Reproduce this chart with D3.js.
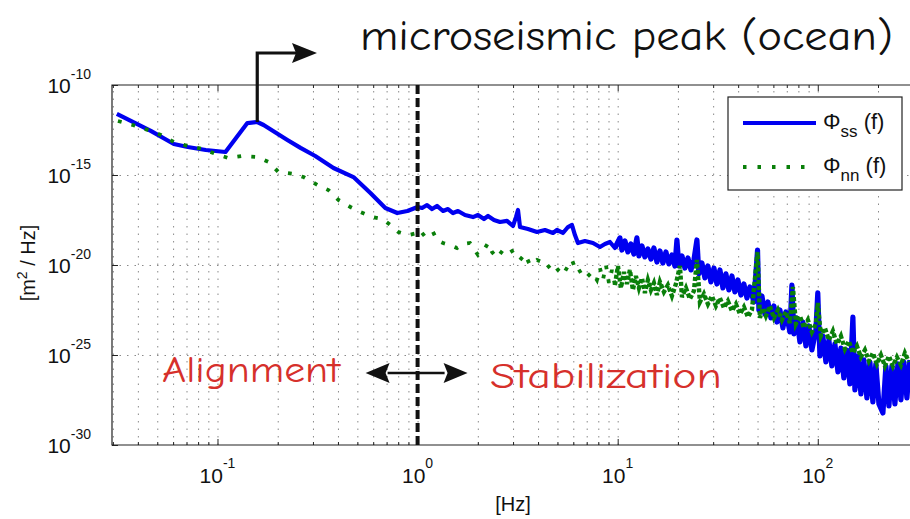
<!DOCTYPE html>
<html>
<head>
<meta charset="utf-8">
<script src="https://cdn.jsdelivr.net/npm/d3@7"></script>
<style>
  body { margin: 0; background: #fff; }
  text { font-family: "Liberation Sans", Arial, sans-serif; fill: #111; }
  .hand { font-family: "Comic Sans MS", "Comic Neue", "DejaVu Sans", sans-serif; }
  .grid line { stroke: #8a8a8a; stroke-width: 1; stroke-dasharray: 1.5, 6; }
  .grid path { display: none; }
  .axis path { display: none; }
  .axis line { stroke: #222; }
</style>
</head>
<body>
<div id="chart"></div>
<script>
const width = 910
const height = 519

// plot box
const pLeft = 112, pRight = 910, pTop = 85, pBottom = 445

// spectra: [frequency Hz, PSD m^2/Hz]
const phiSS = [
  [0.0314, 2.45e-12], [0.0464, 2.8e-13], [0.0605, 5.3e-14], [0.071, 3.6e-14], [0.0874, 2.45e-14],
  [0.1096, 1.9e-14], [0.141, 7.7e-13], [0.158, 8.8e-13], [0.170, 6.0e-13], [0.2235, 8.8e-14],
  [0.260, 3.2e-14], [0.308, 1.14e-14], [0.380, 2.45e-15], [0.478, 7.7e-16], [0.581, 1e-16],
  [0.690, 1.47e-17], [0.792, 7.7e-18], [0.889, 1e-17], [1.0, 1.67e-17],
  [1.053, 1.47e-17], [1.115, 2.15e-17], [1.181, 1.29e-17], [1.25, 1.9e-17], [1.34, 1e-17],
  [1.419, 1.29e-17], [1.503, 7.7e-18], [1.592, 1e-17], [1.726, 6.0e-18], [1.892, 4.6e-18],
  [2.004, 6.0e-18], [2.147, 3.6e-18], [2.249, 5.3e-18], [2.409, 3.2e-18], [2.581, 2.45e-18],
  [2.798, 2.8e-18], [2.997, 1.47e-18], [3.103, 4.6e-18], [3.175, 1.14e-17], [3.249, 1.29e-18],
  [3.562, 1e-18], [3.951, 6.8e-19], [4.331, 8.8e-19], [4.748, 6.0e-19], [4.972, 8.8e-19],
  [5.327, 6.0e-19], [5.643, 1.29e-18], [5.909, 1.67e-18], [6.116, 4.6e-19], [6.33, 1.67e-19],
  [6.861, 2.15e-19], [7.522, 1.67e-19], [8.153, 1e-19], [8.635, 1.47e-19], [9.147, 1.9e-19],
  [9.688, 8.8e-20],
  [10.26, 3.2e-19], [10.5, 6.8e-20], [10.87, 2.15e-19], [11.25, 5.3e-20], [11.64, 1.47e-19],
  [12.05, 4.1e-20], [12.47, 3.2e-19], [12.77, 3.2e-20], [13.22, 1.14e-19], [13.68, 2.8e-20],
  [14.16, 7.7e-20], [14.66, 2.15e-20], [15.17, 8.8e-20], [15.71, 1.47e-20], [16.26, 6.0e-20],
  [16.83, 1.29e-20], [17.42, 5.3e-20], [18.03, 1.14e-20], [18.67, 3.6e-20], [19.32, 8.8e-21],
  [19.77, 2.45e-19], [20.23, 8.8e-21], [20.95, 3.2e-20], [21.68, 6.8e-21], [22.44, 2.45e-20],
  [23.23, 5.3e-21], [24.04, 1.9e-20], [24.89, 2.45e-19], [25.46, 3.2e-21], [26.36, 1.29e-20],
  [27.29, 1.9e-21], [28.24, 8.8e-21], [29.24, 1.14e-21], [30.27, 6.8e-21], [31.33, 8.8e-22],
  [32.43, 5.3e-21], [33.57, 5.3e-22], [34.75, 3.2e-21], [35.96, 4.1e-22], [37.23, 2.45e-21],
  [38.54, 3.2e-22], [39.89, 1.47e-21], [41.29, 2.15e-22], [42.74, 8.8e-22], [44.25, 1.47e-22],
  [45.8, 6.0e-22], [47.95, 8.8e-23], [50.0, 6.8e-20], [50.79, 3.2e-23], [52.58, 1.9e-22],
  [54.42, 1.9e-23], [56.34, 8.8e-23], [58.32, 1.14e-23], [60.36, 5.3e-23], [62.48, 6.8e-24],
  [64.68, 3.2e-23], [66.94, 3.2e-24], [69.29, 2.45e-23], [72.56, 1.9e-24], [74.25, 7.7e-22],
  [75.98, 1.47e-24], [78.65, 1.14e-23], [81.41, 5.3e-25], [84.27, 6.8e-24], [87.23, 3.2e-25],
  [90.28, 4.1e-24], [93.46, 1.9e-25], [97.86, 2.45e-24], [100, 2.8e-22], [102.5, 8.8e-26],
  [106.0, 1.14e-24], [109.8, 4.1e-26], [113.6, 6.8e-25], [117.6, 2.45e-26], [121.8, 4.1e-25],
  [126.1, 1.14e-26], [130.5, 2.45e-25], [135.0, 5.3e-27], [139.8, 1.9e-25], [144.7, 2.45e-27],
  [149.8, 1.29e-23], [153.3, 1.14e-27], [158.7, 8.8e-26], [164.3, 6.8e-28], [170.0, 5.3e-26],
  [176.0, 4.1e-28], [182.2, 4.1e-26], [188.5, 2.45e-28], [195.1, 3.2e-26], [202.1, 1.9e-28],
  [211.6, 6.0e-29], [219.0, 2.45e-26], [226.7, 1.47e-28], [234.6, 2.45e-26], [242.9, 1.9e-28],
  [251.4, 3.2e-26], [260.3, 3.2e-28], [269.4, 4.1e-26], [278.9, 4.1e-28], [288.6, 5.3e-26]
]

const phiNN = [
  [0.0318, 1e-12], [0.0377, 6.0e-13], [0.0448, 3.2e-13], [0.0521, 1.67e-13], [0.0605, 6.8e-14],
  [0.071, 4.1e-14], [0.0844, 2.8e-14], [0.098, 1.47e-14], [0.113, 8.8e-15], [0.133, 1.14e-14],
  [0.158, 1e-14], [0.180, 5.3e-15], [0.2016, 1.47e-15], [0.240, 1.14e-15], [0.269, 7.7e-16],
  [0.316, 2.8e-16], [0.358, 1.47e-16], [0.402, 4.1e-17], [0.4615, 1.67e-17], [0.518, 8.8e-18],
  [0.594, 4.6e-18], [0.667, 3.6e-18], [0.731, 1.67e-18], [0.801, 6.8e-19], [0.899, 4.6e-19],
  [1.0, 6.0e-19],
  [1.029, 3.6e-19], [1.103, 6.8e-19], [1.181, 8.8e-19], [1.25, 2.45e-19], [1.34, 1.67e-19],
  [1.452, 1.29e-19], [1.574, 8.8e-20], [1.687, 1.47e-19], [1.828, 1.67e-19], [2.004, 3.6e-20],
  [2.147, 6.8e-20], [2.249, 1.67e-19], [2.355, 5.3e-20], [2.494, 2.45e-20], [2.672, 6.8e-20],
  [2.896, 8.8e-20], [3.067, 3.2e-20], [3.249, 1.9e-20], [3.441, 4.1e-20], [3.645, 1e-20],
  [3.951, 1.9e-20], [4.184, 1.47e-20], [4.432, 6.8e-21], [4.748, 1.29e-20], [5.03, 5.3e-21],
  [5.327, 2.8e-21], [5.643, 8.8e-21], [5.909, 1.9e-20], [6.259, 3.6e-21], [6.629, 5.3e-21],
  [7.021, 2.15e-21], [7.436, 4.1e-21], [7.876, 1.47e-21],
  [8.153, 6.8e-21], [8.438, 1.47e-21], [8.735, 1e-20], [9.042, 1e-21], [9.36, 5.3e-21],
  [9.688, 7.7e-22], [10.03, 8.8e-21], [10.38, 5.3e-22], [10.75, 4.1e-21], [11.12, 8.8e-22],
  [11.51, 5.3e-21], [11.91, 4.1e-22], [12.33, 2.45e-21], [12.77, 5.3e-22], [13.22, 1.9e-21],
  [13.68, 2.8e-22], [14.16, 1.47e-21], [14.66, 4.1e-22], [15.17, 1e-21], [15.71, 2.15e-22],
  [16.26, 1.14e-21], [17.02, 3.2e-22], [17.82, 7.7e-22], [18.67, 1.9e-22], [19.54, 8.8e-22],
  [20.47, 8.8e-21], [20.95, 1.67e-22], [21.93, 5.3e-22], [22.96, 1.29e-22], [24.04, 3.6e-22],
  [24.89, 1.9e-20], [25.76, 8.8e-23], [26.98, 2.45e-22], [28.24, 6.8e-23], [29.57, 1.9e-22],
  [30.97, 5.3e-23], [32.43, 1.47e-22], [33.96, 4.1e-23], [35.55, 1e-22], [37.23, 2.8e-23],
  [38.99, 6.8e-23], [40.82, 1.9e-23], [42.74, 4.6e-23], [44.76, 1.29e-23], [46.87, 3.2e-23],
  [50.0, 5.3e-20], [51.38, 1.14e-23], [53.18, 4.1e-23], [55.05, 1.47e-23], [57.65, 5.3e-23],
  [60.36, 1.14e-23], [63.21, 3.2e-23], [66.19, 8.8e-24], [69.29, 2.45e-23], [72.56, 6.0e-24],
  [75.11, 6.0e-22], [77.75, 5.3e-24], [81.41, 1.47e-23], [85.24, 3.2e-24], [89.25, 8.8e-24],
  [93.46, 1.9e-24], [97.86, 5.3e-24], [100, 7.7e-23], [103.7, 1.14e-24], [108.5, 3.2e-24],
  [113.6, 6.8e-25], [119.0, 2.15e-24], [124.6, 4.1e-25], [130.5, 1.14e-24], [136.6, 2.15e-25],
  [143.0, 6.0e-25], [149.8, 1.29e-25], [156.9, 3.2e-25], [164.3, 7.7e-26], [172.0, 1.9e-25],
  [180.1, 4.6e-26], [188.5, 1.29e-25], [197.4, 3.2e-26], [206.8, 1e-25], [216.5, 2.45e-26],
  [226.7, 8.8e-26], [237.4, 2.45e-26], [248.6, 7.7e-26], [260.3, 2.8e-26], [272.5, 1.29e-25],
  [285.3, 4.1e-26]
]

const xMajor = [0.1, 1, 10, 100]
const yMajor = [1e-30, 1e-25, 1e-20, 1e-15, 1e-10]
const splitFreq = 1
const legendRows = [
  {sub: "ss", color: "#0000f0", dash: null},
  {sub: "nn", color: "#0a7f0a", dash: "3.5,11"}
]

const x = d3.scaleLog().domain([0.0297, 289]).range([pLeft, pRight])
const y = d3.scaleLog().domain([1e-30, 1e-10]).range([pBottom, pTop])

const xMinor = [0.01, 0.1, 1, 10, 100]
  .flatMap(d => d3.range(2, 10).map(k => +(k * d).toPrecision(2)))
  .filter(v => v > x.domain()[0] && v < x.domain()[1])

let svg = d3.select("#chart")
            .append("svg")
            .attr("width", width)
            .attr("height", height)

svg.append("rect").attr("width", width).attr("height", height).attr("fill", "#fff")

svg.append("clipPath").attr("id", "plot")
   .append("rect").attr("x", pLeft).attr("y", pTop)
   .attr("width", pRight - pLeft).attr("height", pBottom - pTop)

// dotted grid
svg.append("g").attr("class", "grid")
   .attr("transform", `translate(0,${pBottom})`)
   .call(d3.axisBottom(x).tickValues(xMajor.concat(xMinor)).tickSize(-(pBottom - pTop)).tickFormat(""))
svg.append("g").attr("class", "grid")
   .attr("transform", `translate(${pLeft},0)`)
   .call(d3.axisLeft(y).tickValues(yMajor.slice(1, -1)).tickSize(-(pRight - pLeft)).tickFormat(""))

// ticks pointing inward
svg.append("g").attr("class", "axis").attr("transform", `translate(0,${pBottom})`)
   .call(d3.axisBottom(x).tickValues(xMinor).tickSize(-3).tickFormat(""))
svg.append("g").attr("class", "axis").attr("transform", `translate(0,${pBottom})`)
   .call(d3.axisBottom(x).tickValues(xMajor).tickSize(-6).tickFormat(""))
svg.append("g").attr("class", "axis").attr("transform", `translate(0,${pTop})`)
   .call(d3.axisTop(x).tickValues(xMinor).tickSize(-3).tickFormat(""))
svg.append("g").attr("class", "axis").attr("transform", `translate(0,${pTop})`)
   .call(d3.axisTop(x).tickValues(xMajor).tickSize(-6).tickFormat(""))
svg.append("g").attr("class", "axis").attr("transform", `translate(${pLeft},0)`)
   .call(d3.axisLeft(y).tickValues(yMajor).tickSize(-6).tickFormat(""))

// frame
svg.append("path")
   .attr("d", `M${pRight},${pTop}H${pLeft}V${pBottom}H${pRight}`)
   .attr("fill", "none").attr("stroke", "#222").attr("stroke-width", 1.2)

// tick labels as 10^n
xMajor.forEach(v => {
  let t = svg.append("text").attr("x", x(v)).attr("y", 483)
             .attr("text-anchor", "middle").attr("font-size", 21)
  t.append("tspan").text("10")
  t.append("tspan").attr("dy", -15).attr("font-size", 14).text(Math.round(Math.log10(v)))
})
yMajor.forEach(v => {
  let t = svg.append("text").attr("x", 91).attr("y", y(v) + 8)
             .attr("text-anchor", "end").attr("font-size", 21)
  t.append("tspan").text("10")
  t.append("tspan").attr("dy", -14).attr("font-size", 14).text(Math.round(Math.log10(v)))
})

svg.append("text").attr("x", 513).attr("y", 511).attr("text-anchor", "middle")
   .attr("font-size", 20).text("[Hz]")
let yl = svg.append("text").attr("transform", "translate(35,263) rotate(-90)")
   .attr("text-anchor", "middle").attr("font-size", 20)
yl.append("tspan").text("[m")
yl.append("tspan").attr("dy", -8).attr("font-size", 14).text("2")
yl.append("tspan").attr("dy", 8).text(" / Hz]")

// spectra
const line = d3.line().x(d => x(d[0])).y(d => y(d[1]))

let curves = svg.append("g").attr("clip-path", "url(#plot)")
// signal: smooth thick line at low f, wider noisy band above 10 Hz
const ssLow = phiSS.filter(d => d[0] <= 10.26)
const ssHigh = phiSS.filter(d => d[0] >= 9.688)
curves.append("path").datum(ssLow)
      .attr("d", line)
      .attr("fill", "none")
      .attr("stroke", legendRows[0].color)
      .attr("stroke-width", 4.2)
      .attr("stroke-linejoin", "round")
curves.append("path").datum(ssHigh)
      .attr("d", line)
      .attr("fill", "none")
      .attr("stroke", legendRows[0].color)
      .attr("stroke-width", 5.2)
      .attr("stroke-linejoin", "round")

// the dotted noise curve: sparse dots below ~9 Hz, dense band above
const nnSparse = phiNN.filter(d => d[0] <= 9.7)
const nnDense = phiNN.filter(d => d[0] >= 9.688)
curves.append("path").datum(nnSparse)
      .attr("d", line)
      .attr("fill", "none")
      .attr("stroke", legendRows[1].color)
      .attr("stroke-width", 3.8)
      .attr("stroke-dasharray", "3.8,10.2")
curves.append("path").datum(nnDense)
      .attr("d", line)
      .attr("fill", "none")
      .attr("stroke", legendRows[1].color)
      .attr("stroke-width", 4.4)
      .attr("stroke-dasharray", "4,2.2")

// 1 Hz boundary
svg.append("line")
   .attr("x1", x(splitFreq)).attr("x2", x(splitFreq))
   .attr("y1", pTop).attr("y2", pBottom)
   .attr("stroke", "#111").attr("stroke-width", 4)
   .attr("stroke-dasharray", "9,4")

// double arrow at the boundary
const ay = 373
let sx = x(splitFreq)
svg.append("line").attr("x1", sx - 30).attr("x2", sx + 27).attr("y1", ay).attr("y2", ay)
   .attr("stroke", "#111").attr("stroke-width", 2.5)
svg.append("path").attr("fill", "#111")
   .attr("d", `M${sx - 52},${ay} L${sx - 28},${ay - 10} L${sx - 32},${ay} L${sx - 28},${ay + 10} Z`)
svg.append("path").attr("fill", "#111")
   .attr("d", `M${sx + 50},${ay} L${sx + 26},${ay - 10} L${sx + 30},${ay} L${sx + 26},${ay + 10} Z`)

svg.append("text").attr("class", "hand").attr("x", 162).attr("y", 382)
   .attr("font-size", 36).style("fill", "#d6302b")
   .attr("textLength", 178).attr("lengthAdjust", "spacingAndGlyphs")
   .text("Alignment")
svg.append("text").attr("class", "hand").attr("x", 490).attr("y", 388)
   .attr("font-size", 36).style("fill", "#d6302b")
   .attr("textLength", 232).attr("lengthAdjust", "spacingAndGlyphs")
   .text("Stabilization")

// microseismic peak callout
let peak = d3.greatest(phiSS.filter(d => d[0] > 0.12 && d[0] < 0.3), d => d[1])
let px = x(peak[0]), py = y(peak[1])
svg.append("path")
   .attr("d", `M${px},${py} V53 H296`)
   .attr("fill", "none").attr("stroke", "#111").attr("stroke-width", 3.2)
svg.append("path").attr("fill", "#111")
   .attr("d", "M317,53 L292,43 L296,53 L292,63 Z")
svg.append("text").attr("class", "hand").attr("x", 360).attr("y", 50)
   .attr("font-size", 42)
   .attr("textLength", 533).attr("lengthAdjust", "spacingAndGlyphs")
   .text("microseismic peak (ocean)")

// legend
let legend = svg.append("g").attr("id", "legend").attr("transform", "translate(728,97)")
legend.append("rect").attr("width", 174).attr("height", 93)
      .attr("fill", "#fff").attr("stroke", "#222").attr("stroke-width", 1.2)
legendRows.forEach((r, i) => {
  let ly = 26 + i * 44
  legend.append("line").attr("x1", 15).attr("x2", i ? 80 : 88).attr("y1", ly).attr("y2", ly)
        .attr("stroke", r.color).attr("stroke-width", 3.8)
        .attr("stroke-dasharray", r.dash)
  let t = legend.append("text").attr("x", 95).attr("y", ly + 6).attr("font-size", 22)
  t.append("tspan").text("Φ")
  t.append("tspan").attr("dy", 8).attr("font-size", 17).text(r.sub)
  t.append("tspan").attr("dy", -8).text(" (f)")
})
</script>
</body>
</html>
